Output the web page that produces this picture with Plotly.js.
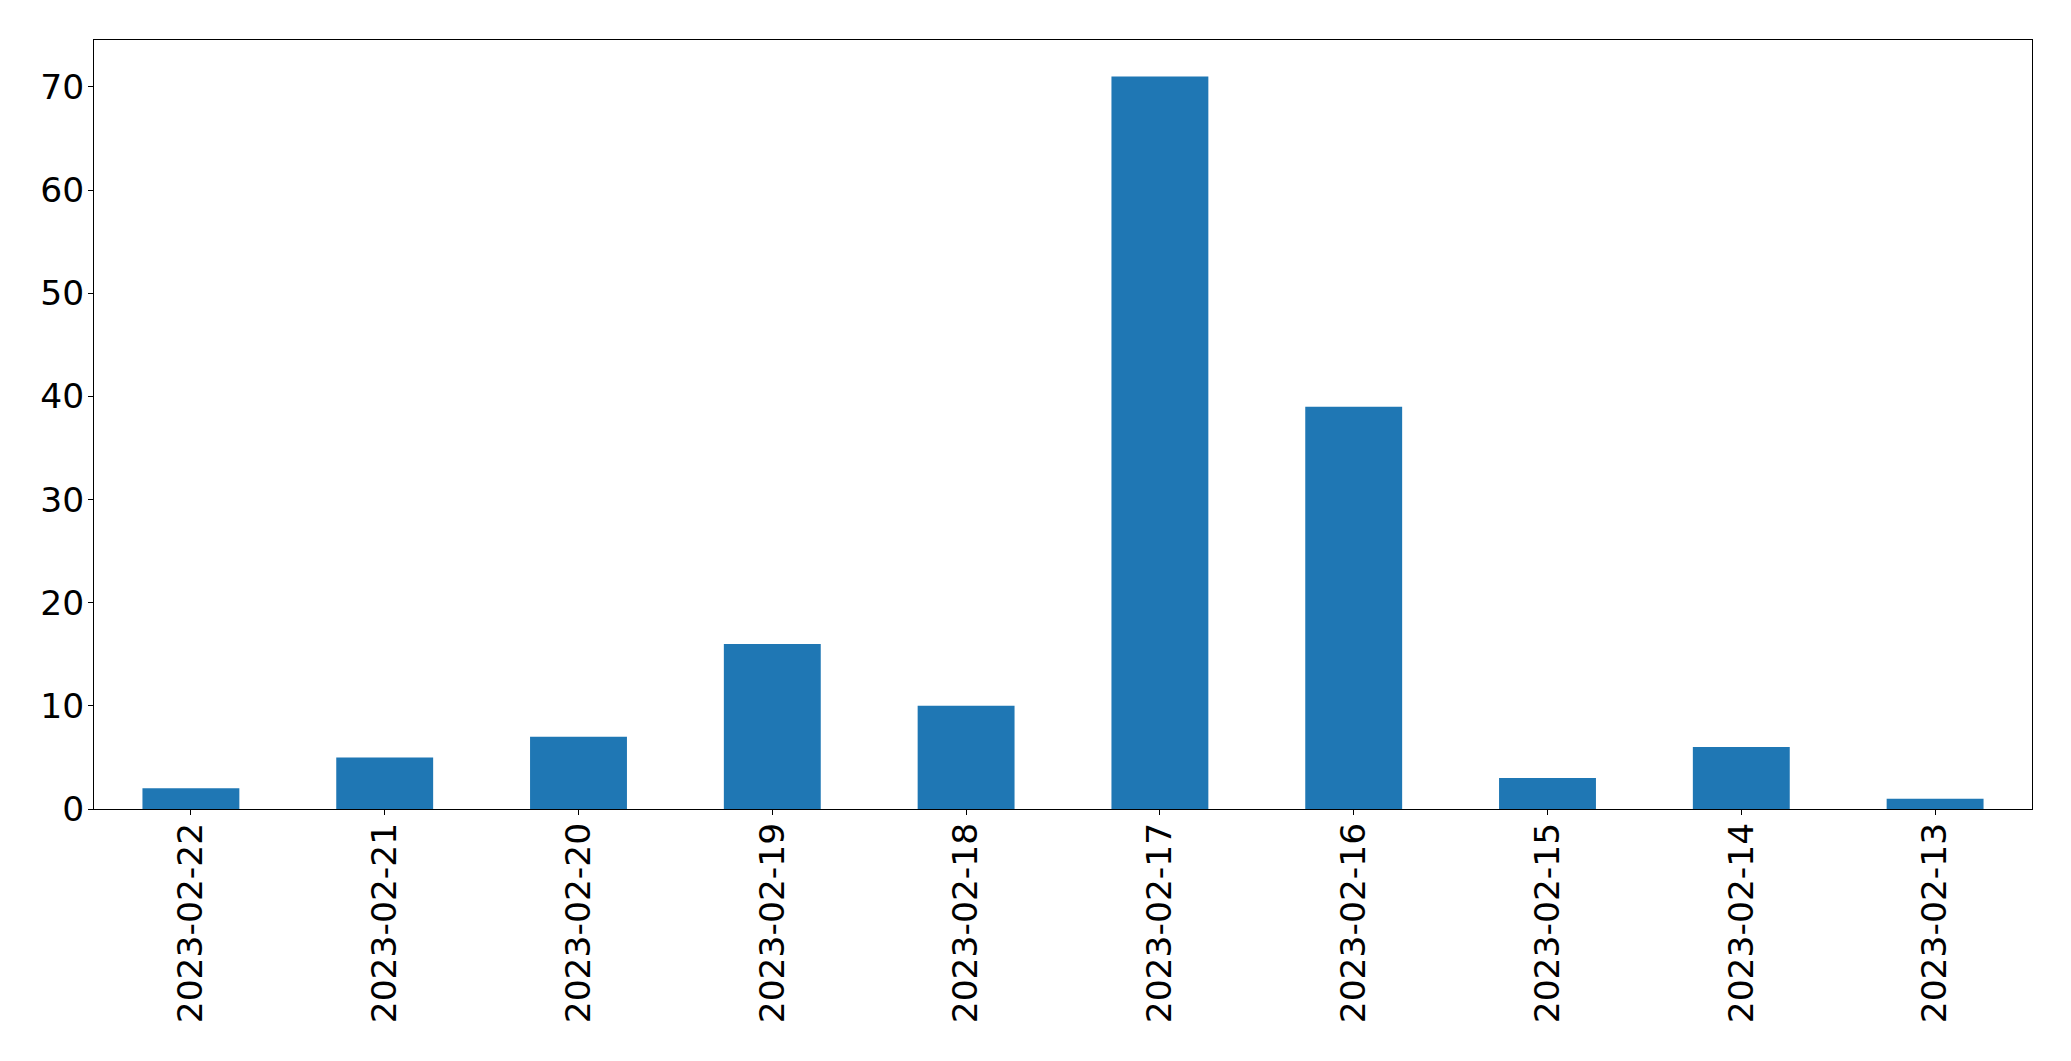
<!DOCTYPE html>
<html>
<head>
<meta charset="utf-8">
<script src="https://cdn.plot.ly/plotly-3.0.1.min.js"></script>
<style>html,body{margin:0;padding:0;background:#fff;}#chart{width:2071px;height:1061px;}</style>
</head>
<body>
<div id="chart"></div>
<script>
const categories = ["2023-02-22","2023-02-21","2023-02-20","2023-02-19","2023-02-18","2023-02-17","2023-02-16","2023-02-15","2023-02-14","2023-02-13"];
const counts = [2,5,7,16,10,71,39,3,6,1];
const yTicks = [0,10,20,30,40,50,60,70];

const trace = {
  type: 'bar',
  x: categories,
  y: counts,
  width: 0.5,
  marker: {color: '#1f77b4', line: {width: 0}},
  hoverinfo: 'x+y'
};

const font = {family: 'DejaVu Sans, sans-serif', size: 34.5, color: '#000'};

const layout = {
  width: 2071,
  height: 1061,
  margin: {l: 94, r: 39, t: 40, b: 252, pad: 0},
  paper_bgcolor: '#fff',
  plot_bgcolor: '#fff',
  showlegend: false,
  bargap: 0.5,
  font: font,
  xaxis: {
    type: 'category',
    range: [-0.5, categories.length - 0.5],
    tickangle: -90,
    ticks: 'outside',
    ticklen: 5,
    tickwidth: 1,
    tickcolor: '#000',
    showline: true,
    mirror: true,
    linecolor: '#000',
    linewidth: 1,
    showgrid: false,
    zeroline: false,
    tickfont: font,
    ticklabelstandoff: -6
  },
  yaxis: {
    range: [0, 71 * 1.05],
    tickmode: 'array',
    tickvals: yTicks,
    ticktext: yTicks.map(String),
    ticks: 'outside',
    ticklen: 5,
    tickwidth: 1,
    tickcolor: '#000',
    showline: true,
    mirror: true,
    linecolor: '#000',
    linewidth: 1,
    showgrid: false,
    zeroline: false,
    tickfont: font,
    ticklabelstandoff: -3
  }
};

Plotly.newPlot('chart', [trace], layout, {displayModeBar: false, staticPlot: true});
</script>
</body>
</html>
